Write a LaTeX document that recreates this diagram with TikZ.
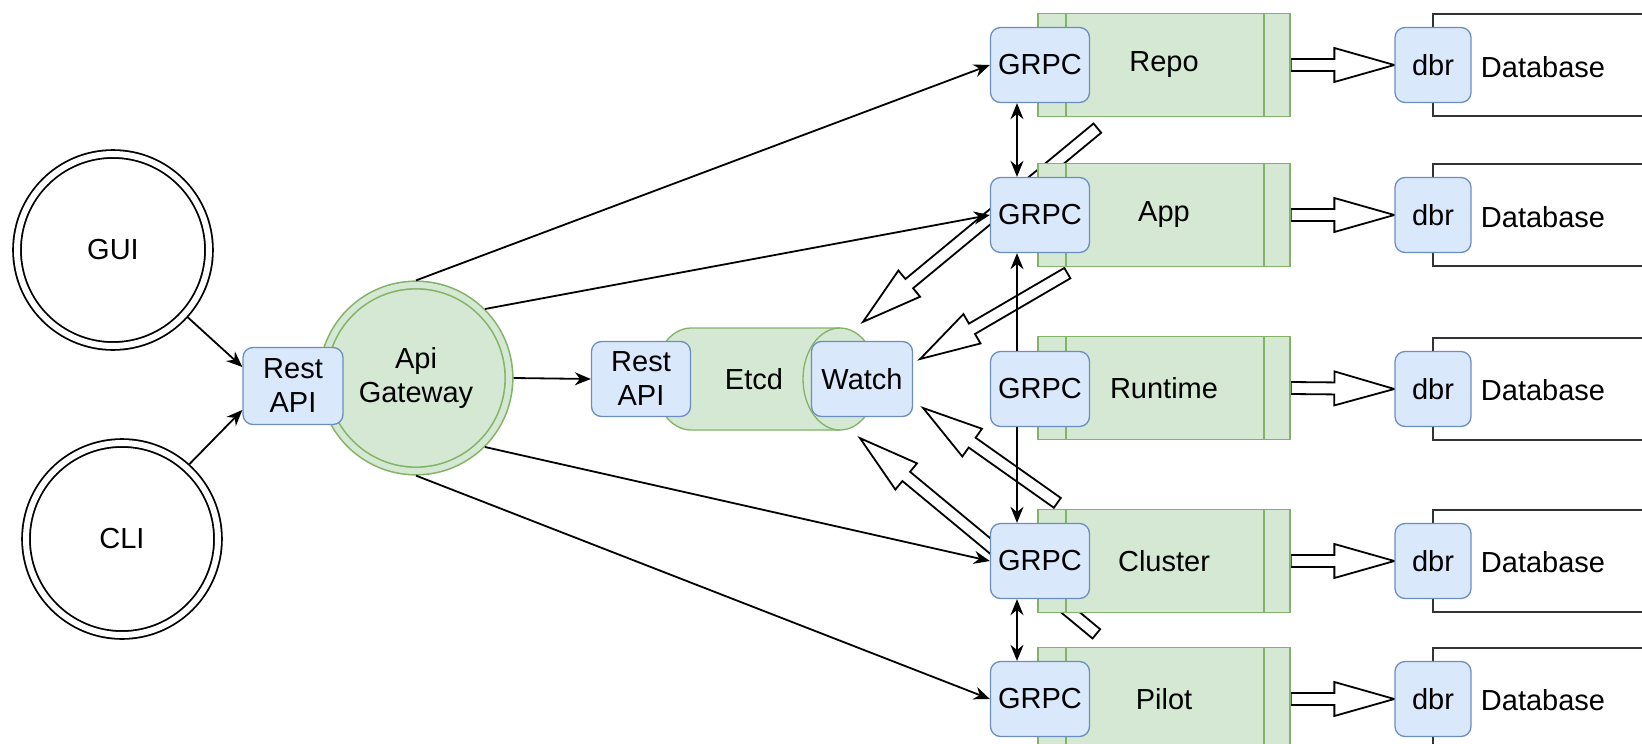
\documentclass[tikz,border=0pt]{standalone}
\usepackage{fontspec}
\setmainfont{Liberation Sans}
\usetikzlibrary{positioning, calc, arrows.meta, backgrounds}

\definecolor{greenfill}{HTML}{D5E8D4}
\definecolor{greenline}{HTML}{82B366}
\definecolor{bluefill}{HTML}{DAE8FC}
\definecolor{blueline}{HTML}{6C8EBF}

\tikzset{
  bluebox/.style={draw=blueline, fill=bluefill, line width=1.3pt, rounded corners=10pt,
    minimum width=99pt, minimum height=75pt, inner sep=0pt, align=center},
  process/.style={draw=greenline, fill=greenfill, line width=1.3pt,
    minimum width=252pt, minimum height=103pt,
    path picture={\draw[greenline, line width=1.3pt]
      ([xshift=28pt]path picture bounding box.north west) -- ([xshift=28pt]path picture bounding box.south west)
      ([xshift=-26pt]path picture bounding box.north east) -- ([xshift=-26pt]path picture bounding box.south east);}},
  client/.style={circle, draw=black, fill=white, line width=1.8pt, double=white, double distance=6pt,
    minimum size=192pt, inner sep=0pt, outer sep=4.8pt},
  gatewaycircle/.style={circle, draw=greenline, fill=greenfill, line width=1.6pt, double=greenfill,
    double distance=6pt, minimum size=186pt, inner sep=0pt, outer sep=4.6pt, align=center},
  link/.style={line width=1.8pt, -{Stealth[length=16pt, width=13pt]}},
  bilink/.style={line width=1.8pt, {Stealth[length=16pt, width=13pt]}-{Stealth[length=16pt, width=13pt]}},
  hollow/.style={draw=black, fill=white, line width=1.8pt},
  dbline/.style={draw=black!80, line width=2.2pt}
}

% hollow block arrow from #1 to #2
\newcommand{\hollowarrow}[2]{%
  \path ($(#2)!60pt!(#1)$) coordinate (hb);
  \draw[hollow] ($(#1)!6pt!90:(#2)$) -- ($(hb)!6pt!90:(#2)$) -- ($(hb)!17pt!90:(#2)$) -- (#2)
    -- ($(hb)!17pt!-90:(#2)$) -- ($(hb)!6pt!-90:(#2)$) -- ($(#1)!6pt!-90:(#2)$) -- cycle;}

\begin{document}
\begin{tikzpicture}[x=1pt, y=1pt, font=\fontsize{29}{34}\selectfont]
  \useasboundingbox (0,0) rectangle (1642,-744);

  % Clients
  \node[client] (gui) at (113,-250) {GUI};
  \node[client] (cli) at (122,-539) {CLI};

  % Gateway and its rest endpoint
  \node[gatewaycircle] (gateway) at (416,-378) {Api\\Gateway};
  \node[bluebox, minimum width=100pt, minimum height=77pt] (restgw) at (293,-386) {Rest\\API};

  % Etcd
  \node (etcd) at (754,-379) {Etcd};
  \node[bluebox] (restetcd) at (641,-379) {Rest\\API};
  \node[bluebox, minimum width=101pt] (watch) at (862,-379) {Watch};

  % Services
  \node[process] (repo) at (1164,-65) {Repo};
  \node[process] (app) at (1164,-215) {App};
  \node[process] (runtime) at (1164,-388) {Runtime};
  \node[process] (cluster) at (1164,-561) {Cluster};
  \node[process] (pilot) at (1164,-699) {Pilot};

  \node[bluebox] (grpcrepo) at (1040,-65) {GRPC};
  \node[bluebox] (grpcapp) at (1040,-215) {GRPC};
  \node[bluebox] (grpcruntime) at (1040,-389) {GRPC};
  \node[bluebox] (grpccluster) at (1040,-561) {GRPC};
  \node[bluebox] (grpcpilot) at (1040,-699) {GRPC};

  % Databases
  \node[bluebox, minimum width=76pt] (dbrrepo) at (1433,-65) {dbr};
  \node[bluebox, minimum width=76pt] (dbrapp) at (1433,-215) {dbr};
  \node[bluebox, minimum width=76pt] (dbrruntime) at (1433,-389) {dbr};
  \node[bluebox, minimum width=76pt] (dbrcluster) at (1433,-561) {dbr};
  \node[bluebox, minimum width=76pt] (dbrpilot) at (1433,-699) {dbr};

  \node (dbrepo) at (1543,-67) {Database};
  \node (dbapp) at (1543,-217) {Database};
  \node (dbruntime) at (1543,-390) {Database};
  \node (dbcluster) at (1543,-562) {Database};
  \node (dbpilot) at (1543,-700) {Database};

  % Ends of the watch arrows
  \coordinate (repoout) at ($(repo.south west)+(60,-11)$);
  \coordinate (appout) at ($(app.south west)+(30,-6)$);
  \coordinate (clusterout) at ($(cluster.north west)+(20,6)$);
  \coordinate (pilotout) at ($(pilot.north west)+(59,13)$);
  \coordinate (wtop) at ($(watch.north)+(1,19)$);
  \coordinate (wupper) at ($(watch.east)+(7,20)$);
  \coordinate (wlower) at ($(watch.east)+(10,-29)$);
  \coordinate (wbottom) at ($(watch.south)+(-2,-21)$);

  \begin{scope}[on background layer]
    % Etcd cylinder
    \filldraw[draw=greenline, fill=greenfill, line width=1.3pt] (691,-328) -- (840,-328)
      arc[start angle=90, end angle=-90, x radius=37, y radius=51] -- (691,-430)
      arc[start angle=270, end angle=90, x radius=37, y radius=51] -- cycle;
    \draw[greenline, line width=1.3pt] (840,-328) arc[start angle=90, end angle=270, x radius=37, y radius=51];

    % Database outlines
    \foreach \s in {repo,app,runtime,cluster,pilot}
      \draw[dbline] ($(dbr\s)+(230,51)$) -- ($(dbr\s)+(0,51)$) -- ($(dbr\s)+(0,-51)$) -- ($(dbr\s)+(230,-51)$);

    % Storage arrows
    \foreach \s in {repo,app,runtime,cluster,pilot}
      {\hollowarrow{\s.east}{dbr\s.west}}

    % Watch arrows
    \hollowarrow{repoout}{wtop}
    \hollowarrow{appout}{wupper}
    \hollowarrow{clusterout}{wlower}
    \hollowarrow{pilotout}{wbottom}
  \end{scope}

  % Requests
  \draw[link] (gui.-42) -- ($(restgw.west)+(0,19)$);
  \draw[link] (cli.48) -- ($(restgw.west)+(0,-24)$);
  \draw[link] (gateway.north) -- (grpcrepo.west);
  \draw[link] (gateway.north east) -- (grpcapp.west);
  \draw[link] (gateway.east) -- (restetcd.west);
  \draw[link] (gateway.south east) -- (grpccluster.west);
  \draw[link] (gateway.south) -- (grpcpilot.west);

  % Calls between services
  \draw[bilink] ($(grpcrepo.south)+(-23,0)$) -- ($(grpcapp.north)+(-23,0)$);
  \draw[link] ($(grpcruntime.north)+(-23,0)$) -- ($(grpcapp.south)+(-23,0)$);
  \draw[link] ($(grpcruntime.south)+(-23,0)$) -- ($(grpccluster.north)+(-23,0)$);
  \draw[bilink] ($(grpccluster.south)+(-23,0)$) -- ($(grpcpilot.north)+(-23,0)$);
\end{tikzpicture}
\end{document}
